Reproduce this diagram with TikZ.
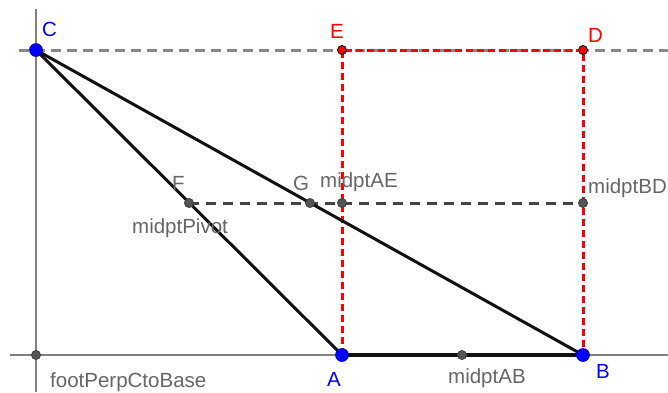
\documentclass[tikz,border=0pt]{standalone}
\usepackage{fontspec}
\setmainfont{Liberation Sans}
\usetikzlibrary{positioning,backgrounds}
\definecolor{ptblue}  {HTML}{0000FF}
\definecolor{ptred}   {HTML}{FF0000}
\definecolor{axgray}  {HTML}{808080}
\definecolor{dshgray} {HTML}{888888}
\definecolor{labgray} {HTML}{666666}
\definecolor{ptgray}  {HTML}{555555}
\definecolor{ink}     {HTML}{111111}

\tikzset{
  bluept/.style={circle,fill=ptblue,draw=ptblue!70!black,line width=0.6pt,inner sep=0pt,minimum size=13pt},
  redpt/.style={circle,fill=ptred,draw=ink,line width=0.9pt,inner sep=0pt,minimum size=9pt},
  graypt/.style={circle,fill=ptgray,draw=ink!80,line width=0.9pt,inner sep=0pt,minimum size=9pt},
  ptlab/.style={anchor=base west,inner sep=0pt,font=\fontsize{20.5}{22}\selectfont},
}

\begin{document}
\begin{tikzpicture}[x=1pt,y=-1pt]
    \useasboundingbox (0,0) rectangle (668,392);

    % points
    \node[bluept] (C) at (36,50) {};
    \node[bluept] (A) at (342,355) {};
    \node[bluept] (B) at (583,355) {};
    \node[redpt] (E) at (342,50) {};
    \node[redpt] (D) at (583,50) {};
    \node[graypt] (F) at (189,203) {};
    \node[graypt] (G) at (310,203) {};
    \node[graypt] (mAE) at (342,203) {};
    \node[graypt] (mBD) at (583,203) {};
    \node[graypt] (mAB) at (462,355) {};
    \node[graypt] (foot) at (36,355) {};

    % ends of the axes and of the line through C
    \coordinate (ytop) at (36,9);
    \coordinate (ybot) at (36,392);
    \coordinate (xlft) at (10,355);
    \coordinate (xrgt) at (668,355);
    \coordinate (hlft) at (19,50);
    \coordinate (hrgt) at (668,50);

    \begin{scope}[on background layer]
      % axes
      \draw[axgray,line width=2.2pt] (ytop) -- (ybot);
      \draw[axgray,line width=2.2pt] (xlft) -- (xrgt);
      % line through C parallel to the base
      \draw[dshgray,line width=3pt,dash pattern=on 10pt off 6pt] (hlft) -- (hrgt);
      % rectangle ABDE (dashed red)
      \draw[ptred,line width=3pt,dash pattern=on 7pt off 4pt] (A.center) -- (E.center) -- (D.center) -- (B.center);
      % midline
      \draw[ptgray!80!black,line width=3pt,dash pattern=on 10pt off 7pt] (F.center) -- (mBD.center);
      % triangle
      \draw[ink,line width=3pt] (C.center) -- (A.center);
      \draw[ink,line width=3pt] (C.center) -- (B.center);
      \draw[ink,line width=3.6pt] (A.center) -- (B.center);
    \end{scope}

    % labels
    \node[ptlab,text=ptblue] (labC) at (42,36) {C};
    \node[ptlab,text=ptblue] (labA) at (327,386) {A};
    \node[ptlab,text=ptblue] (labB) at (596,378) {B};
    \node[ptlab,text=ptred] (labE) at (330,38) {E};
    \node[ptlab,text=ptred] (labD) at (588,42) {D};
    \node[ptlab,text=labgray] (labF) at (172,190) {F};
    \node[ptlab,text=labgray] (labG) at (293,190) {G};
    \node[ptlab,text=labgray] (labmAE) at (320,187) {midptAE};
    \node[ptlab,text=labgray] (labmBD) at (588,193) {midptBD};
    \node[ptlab,text=labgray] (labPiv) at (132,233) {midptPivot};
    \node[ptlab,text=labgray] (labmAB) at (448,383) {midptAB};
    \node[ptlab,text=labgray] (labfoot) at (50,387) {footPerpCtoBase};
\end{tikzpicture}
\end{document}
